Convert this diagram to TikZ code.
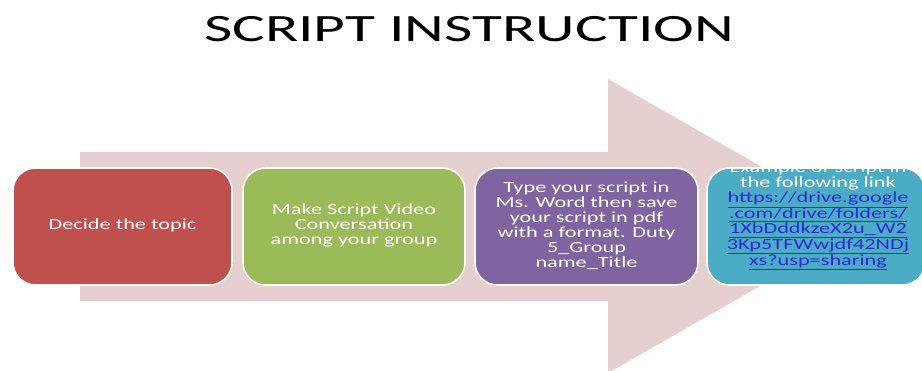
\documentclass[tikz,border=0pt]{standalone}
\usepackage{fontspec}
\setmainfont{Carlito}
\definecolor{arrowpink}{HTML}{E6CFCF}
\definecolor{boxred}{HTML}{C0504D}
\definecolor{boxgreen}{HTML}{9BBB59}
\definecolor{boxpurple}{HTML}{8064A2}
\definecolor{boxteal}{HTML}{4BACC6}
\definecolor{linkblue}{HTML}{2A2AD8}
\newcommand{\wide}[1]{\scalebox{1.44}[1]{\fontsize{11.6}{10.95}\selectfont\begin{tabular}{@{}c@{}}#1\end{tabular}}}
\newcommand{\weblink}[1]{\textcolor{linkblue}{\underline{#1}}}
\tikzset{
  stepbox/.style={draw=white, line width=1.2pt, rounded corners=17pt, minimum height=87.75pt, text=white, inner sep=0pt},
}

\begin{document}
\begin{tikzpicture}[x=0.75pt,y=-0.75pt]
  \clip (0,0) rectangle (922,371);
  \fill[arrowpink] (80,152) -- (608,152) -- (608,79) -- (865,226) -- (608,373) -- (608,301) -- (80,301) -- cycle;
  \node[inner sep=0pt] (T) at (469,29) {\scalebox{1.59}[1]{\fontsize{29}{34}\selectfont SCRIPT INSTRUCTION}};
  \node[stepbox,fill=boxred,minimum width=164.25pt] (S-1) at (122.5,226.5) {\wide{Decide the topic}};
  \node[stepbox,fill=boxgreen,minimum width=166.5pt] (S-2) at (354,226.5) {\wide{Make Script Video\\Conversation\\among your group}};
  \node[stepbox,fill=boxpurple,minimum width=167.25pt] (S-3) at (586.5,226.5) {\wide{Type your script in\\Ms. Word then save\\your script in pdf\\with a format. Duty\\5\_Group\\name\_Title}};
  \node[stepbox,fill=boxteal,minimum width=163.5pt] (S-4) at (816,226.5) {};
  \begin{scope}
    \clip[rounded corners=17pt] (S-4.south west) rectangle (S-4.north east);
    \node[text=white,inner sep=0pt] (L-4) at (818,216) {\wide{Example of script in\\the following link\\\weblink{https://drive.google}\\\weblink{.com/drive/folders/}\\\weblink{1XbDddkzeX2u\_W2}\\\weblink{3Kp5TFWwjdf42NDj}\\\weblink{xs?usp=sharing}}};
  \end{scope}
\end{tikzpicture}
\end{document}
